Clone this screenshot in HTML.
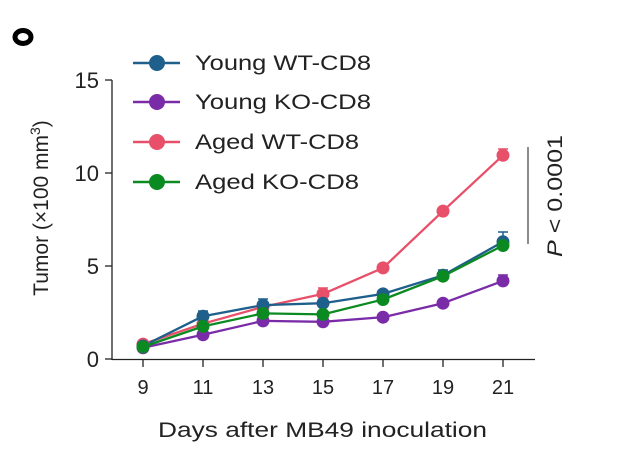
<!DOCTYPE html>
<html><head><meta charset="utf-8"><style>
html,body{margin:0;padding:0;background:#fff;}
svg{display:block;font-family:"Liberation Sans",Arial,sans-serif;}
</style></head><body>
<svg width="639" height="466" viewBox="0 0 639 466" xmlns="http://www.w3.org/2000/svg">
<ellipse cx="23" cy="37" rx="8" ry="6.5" fill="none" stroke="#000" stroke-width="5"/>
<!-- axes -->
<g stroke="#222" stroke-width="1.3" fill="none">
<line x1="112" y1="80" x2="112" y2="360"/>
<line x1="112" y1="359.5" x2="535" y2="359.5"/>
<line x1="105" y1="80" x2="112" y2="80"/>
<line x1="105" y1="173" x2="112" y2="173"/>
<line x1="105" y1="266" x2="112" y2="266"/>
<line x1="105" y1="359" x2="112" y2="359"/>
<line x1="143" y1="360" x2="143" y2="367"/>
<line x1="203" y1="360" x2="203" y2="367"/>
<line x1="263" y1="360" x2="263" y2="367"/>
<line x1="323" y1="360" x2="323" y2="367"/>
<line x1="383" y1="360" x2="383" y2="367"/>
<line x1="443" y1="360" x2="443" y2="367"/>
<line x1="503" y1="360" x2="503" y2="367"/>
</g>
<g font-size="22" fill="#222" text-anchor="end">
<text x="99" y="88">15</text>
<text x="99" y="181">10</text>
<text x="99" y="274">5</text>
<text x="99" y="367">0</text>
</g>
<g font-size="20" fill="#222" text-anchor="middle">
<text x="143" y="394">9</text>
<text x="203" y="394">11</text>
<text x="263" y="394">13</text>
<text x="323" y="394">15</text>
<text x="383" y="394">17</text>
<text x="443" y="394">19</text>
<text x="503" y="394">21</text>
</g>
<text x="158" y="437" font-size="21" fill="#222" textLength="329" lengthAdjust="spacingAndGlyphs">Days after MB49 inoculation</text>
<text transform="translate(48,208) rotate(-90)" font-size="21" fill="#222" text-anchor="middle">Tumor (×100 mm<tspan font-size="14" dy="-8">3</tspan><tspan dy="8">)</tspan></text>
<!-- bracket -->
<line x1="528" y1="147" x2="528" y2="244" stroke="#666" stroke-width="1.5"/>
<text transform="translate(562,196) rotate(-90)" font-size="21" fill="#222" text-anchor="middle" textLength="122" lengthAdjust="spacingAndGlyphs"><tspan font-style="italic">P</tspan> &lt; 0.0001</text>
<!-- error bars -->
<g stroke-width="1.5" fill="none">
<path d="M503 149V155 M498 149H508 M323 288V294 M318 288H328" stroke="#e8506a"/>
<path d="M503 232V242 M498 232H508 M203 311V316 M198 311H208 M263 299V305 M258 299H268 M443 270V275 M438 270H448" stroke="#1f5f8b"/>
<path d="M503 275V281 M498 275H508" stroke="#7a2ca8"/>
</g>
<!-- series -->
<g stroke-width="2.3" fill="none" stroke-linejoin="round">
<polyline stroke="#e8506a" points="143,344.1 203,323.7 263,306.9 323,293.9 383,267.9 443,211.1 503,155.3"/>
<polyline stroke="#7a2ca8" points="143,347.8 203,334.8 263,320.9 323,321.8 383,317.2 443,303.2 503,280.9"/>
<polyline stroke="#1f5f8b" points="143,346 203,316.2 263,305.1 323,303.2 383,293.9 443,275.3 503,241.8"/>
<polyline stroke="#0c8a22" points="143,346.9 203,326.4 263,313.4 323,314.4 383,299.5 443,276.2 503,245.5"/>
</g>
<g fill="#e8506a"><circle cx="143" cy="344.1" r="6.5"/><circle cx="203" cy="323.7" r="6.5"/><circle cx="263" cy="306.9" r="6.5"/><circle cx="323" cy="293.9" r="6.5"/><circle cx="383" cy="267.9" r="6.5"/><circle cx="443" cy="211.1" r="6.5"/><circle cx="503" cy="155.3" r="6.5"/></g>
<g fill="#7a2ca8"><circle cx="143" cy="347.8" r="6.5"/><circle cx="203" cy="334.8" r="6.5"/><circle cx="263" cy="320.9" r="6.5"/><circle cx="323" cy="321.8" r="6.5"/><circle cx="383" cy="317.2" r="6.5"/><circle cx="443" cy="303.2" r="6.5"/><circle cx="503" cy="280.9" r="6.5"/></g>
<g fill="#1f5f8b"><circle cx="143" cy="346" r="6.5"/><circle cx="203" cy="316.2" r="6.5"/><circle cx="263" cy="305.1" r="6.5"/><circle cx="323" cy="303.2" r="6.5"/><circle cx="383" cy="293.9" r="6.5"/><circle cx="443" cy="275.3" r="6.5"/><circle cx="503" cy="241.8" r="6.5"/></g>
<g fill="#0c8a22"><circle cx="143" cy="346.9" r="6.5"/><circle cx="203" cy="326.4" r="6.5"/><circle cx="263" cy="313.4" r="6.5"/><circle cx="323" cy="314.4" r="6.5"/><circle cx="383" cy="299.5" r="6.5"/><circle cx="443" cy="276.2" r="6.5"/><circle cx="503" cy="245.5" r="6.5"/></g>
<!-- legend -->
<g stroke-width="2.5">
<line x1="133" y1="63" x2="180" y2="63" stroke="#1f5f8b"/><circle cx="157" cy="63" r="8" fill="#1f5f8b"/>
<line x1="133" y1="102" x2="180" y2="102" stroke="#7a2ca8"/><circle cx="157" cy="102" r="8" fill="#7a2ca8"/>
<line x1="133" y1="142" x2="180" y2="142" stroke="#e8506a"/><circle cx="157" cy="142" r="8" fill="#e8506a"/>
<line x1="133" y1="182" x2="180" y2="182" stroke="#0c8a22"/><circle cx="157" cy="182" r="8" fill="#0c8a22"/>
</g>
<g font-size="21" fill="#222">
<text x="195" y="70" textLength="176" lengthAdjust="spacingAndGlyphs">Young WT-CD8</text>
<text x="195" y="109" textLength="176" lengthAdjust="spacingAndGlyphs">Young KO-CD8</text>
<text x="195" y="149" textLength="164" lengthAdjust="spacingAndGlyphs">Aged WT-CD8</text>
<text x="195" y="189" textLength="164" lengthAdjust="spacingAndGlyphs">Aged KO-CD8</text>
</g>
</svg>
</body></html>
